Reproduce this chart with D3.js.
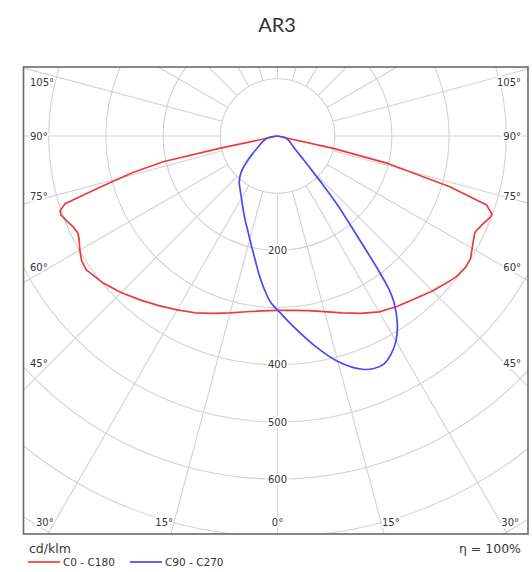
<!DOCTYPE html>
<html>
<head>
<meta charset="utf-8">
<script src="https://cdn.jsdelivr.net/npm/d3@7"></script>
<style>
  html, body { margin: 0; padding: 0; background: #fff; }
  svg { display: block; }
</style>
</head>
<body>
<svg id="chart" width="532" height="572"></svg>
<script>
// Luminous intensity distribution (cd/klm), gamma angle in degrees from nadir.
// C0 - C180 plane
const c0Angles   = [0, 5, 10, 15, 20, 25, 30, 35, 40, 45, 50, 52, 55, 57.5, 60, 62, 64, 67, 69, 70, 71.75, 73.6, 76, 77.5, 90];
const c0Values   = [305, 306, 310, 318, 329, 342, 355, 364, 372, 383, 394, 398, 401, 400, 393, 388, 384, 391, 398, 399, 385, 314, 200, 100, 0];
const c180Angles = [0, 5, 10, 15, 20, 25, 30, 35, 40, 45, 50, 55, 57.5, 60, 62.5, 64, 66, 68, 70, 71, 72.3, 74, 75.8, 77.3, 78, 90];
const c180Values = [305, 307, 312, 320, 330, 341, 351, 362, 374, 387, 399, 408, 406, 399, 391, 388, 391, 397, 403, 402, 390, 320, 262, 205, 100, 0];
// C90 - C270 plane
const c90Angles  = [0, 5, 10, 15, 20, 22.5, 25, 27.5, 30, 32.5, 35, 36, 37, 38, 39.5, 41, 43, 45, 48, 52, 60, 70, 78, 90];
const c90Values  = [304, 336, 372, 408, 434, 440, 440, 430, 414, 390, 355, 332, 290, 245, 195, 160, 115, 85, 60, 42, 28, 20, 14, 0];
const c270Angles = [0, 2.5, 5, 7.5, 10, 12.5, 15, 17.5, 20, 25, 30, 35, 40, 45, 50, 55, 60, 70, 80, 90];
const c270Values = [304, 290, 268, 245, 222, 203, 187, 173, 162, 142, 126, 114, 104, 90, 70, 52, 40, 27, 17, 0];

// Grid and labels
const ringValues   = [100, 200, 300, 400, 500, 600, 700, 800];
const ringLabels   = [200, 400, 500, 600];
const spokeAngles  = d3.range(0, 360, 15);
const sideLabels   = [105, 90, 75, 60, 45];
const bottomLabels = [30, 15, 0, 15, 30];
const bottomSides  = [-1, -1, 0, 1, 1];

const legendNames  = ["C0 - C180", "C90 - C270"];
const legendColors = ["#f03a3a", "#4a4af2"];
const title = "AR3";
const unitText = "cd/klm";
const effText = "\u03b7 = 100%";

const svg = d3.select("#chart");
const frame = { left: 23.5, top: 67, right: 528, bottom: 534 };
const cx = 277.5, cy = 136;
const r = d3.scaleLinear().domain([0, 100]).range([0, 57.2]);
const gridColor = "#d2d2d2";
const textColor = "#363636";
const labelFont = "'DejaVu Sans', Verdana, sans-serif";

// polar -> screen: gamma measured from straight down, side -1 = left, +1 = right
function pt(gamma, value, side) {
  const a = gamma * Math.PI / 180;
  const rr = r(value);
  return [cx + side * rr * Math.sin(a), cy + rr * Math.cos(a)];
}

svg.append("text")
  .attr("x", 277).attr("y", 32)
  .attr("text-anchor", "middle")
  .attr("font-family", "Lato, 'Open Sans', sans-serif")
  .attr("font-size", 20)
  .attr("fill", "#333")
  .text(title);

const defs = svg.append("defs");
defs.append("clipPath").attr("id", "frameClip")
  .append("rect")
  .attr("x", frame.left).attr("y", frame.top)
  .attr("width", frame.right - frame.left).attr("height", frame.bottom - frame.top);

const grid = svg.append("g").attr("clip-path", "url(#frameClip)");

grid.selectAll("circle.ring").data(ringValues).join("circle")
  .attr("class", "ring")
  .attr("cx", cx).attr("cy", cy)
  .attr("r", d => r(d))
  .attr("fill", "none")
  .attr("stroke", gridColor)
  .attr("stroke-width", 1.1);

// spokes every 15 degrees, starting at the innermost ring
grid.selectAll("line.spoke").data(spokeAngles).join("line")
  .attr("class", "spoke")
  .attr("x1", d => pt(d, 100, 1)[0]).attr("y1", d => pt(d, 100, 1)[1])
  .attr("x2", d => pt(d, 1200, 1)[0]).attr("y2", d => pt(d, 1200, 1)[1])
  .attr("stroke", gridColor)
  .attr("stroke-width", 1.1);

const line = d3.line();
function curvePoints(leftAngles, leftValues, rightAngles, rightValues) {
  const pts = [];
  for (let i = leftAngles.length - 1; i >= 0; i--) pts.push(pt(leftAngles[i], leftValues[i], -1));
  for (let i = 0; i < rightAngles.length; i++) pts.push(pt(rightAngles[i], rightValues[i], 1));
  return pts;
}

// labels drawn with a white halo so the grid breaks around them
function haloText(sel) {
  sel.attr("font-family", labelFont)
    .attr("font-size", 10)
    .attr("fill", textColor)
    .attr("stroke", "#fff")
    .attr("stroke-width", 4)
    .attr("stroke-linejoin", "round")
    .attr("paint-order", "stroke");
}

// side angle labels: at the height where each spoke passes x = 50 (mirrored on the right)
const sideG = svg.append("g");
sideLabels.forEach(g => {
  const a = g * Math.PI / 180;
  const ys = cy + (cx - 50) * Math.cos(a) / Math.sin(a);
  const yy = Math.max(frame.top + 15.5, ys);
  sideG.append("text").call(haloText)
    .attr("x", 30).attr("y", yy).attr("dy", "0.35em")
    .attr("text-anchor", "start").text(g + "\u00b0");
  sideG.append("text").call(haloText)
    .attr("x", 521).attr("y", yy).attr("dy", "0.35em")
    .attr("text-anchor", "end").text(g + "\u00b0");
});

// bottom angle labels, beside the point where each spoke meets the label row
bottomLabels.forEach((g, i) => {
  const side = bottomSides[i];
  const a = g * Math.PI / 180;
  const yLab = 522;
  const xs = cx + (side || 1) * (yLab - cy) * Math.tan(a);
  svg.append("text").call(haloText)
    .attr("x", side < 0 ? xs - 1 : side > 0 ? xs + 1 : xs)
    .attr("y", yLab).attr("dy", "0.35em")
    .attr("text-anchor", side < 0 ? "end" : side > 0 ? "start" : "middle")
    .text(g + "\u00b0");
});

// ring value labels along the nadir spoke
svg.selectAll("text.ringLabel").data(ringLabels).join("text")
  .attr("class", "ringLabel")
  .call(haloText)
  .attr("x", cx).attr("y", d => cy + r(d)).attr("dy", "0.35em")
  .attr("text-anchor", "middle")
  .text(d => d);

svg.append("path")
  .attr("d", line(curvePoints(c180Angles, c180Values, c0Angles, c0Values)))
  .attr("fill", "none").attr("stroke", legendColors[0])
  .attr("stroke-width", 1.7).attr("stroke-linejoin", "round");

svg.append("path")
  .attr("d", line.curve(d3.curveCatmullRom)(curvePoints(c270Angles, c270Values, c90Angles, c90Values)))
  .attr("fill", "none").attr("stroke", legendColors[1])
  .attr("stroke-width", 1.7).attr("stroke-linejoin", "round");

// frame
svg.append("rect")
  .attr("x", frame.left).attr("y", frame.top)
  .attr("width", frame.right - frame.left).attr("height", frame.bottom - frame.top)
  .attr("fill", "none").attr("stroke", "#6a6a6a").attr("stroke-width", 1.6);

// footer
svg.append("text")
  .attr("x", 29).attr("y", 553)
  .attr("font-family", labelFont).attr("font-size", 12.5)
  .attr("fill", textColor).text(unitText);

svg.append("text")
  .attr("x", 521).attr("y", 553)
  .attr("text-anchor", "end")
  .attr("font-family", labelFont).attr("font-size", 12.5)
  .attr("fill", textColor).text(effText);

const legendX = [28, 130];
legendNames.forEach((name, i) => {
  svg.append("line")
    .attr("x1", legendX[i]).attr("x2", legendX[i] + 32)
    .attr("y1", 562).attr("y2", 562)
    .attr("stroke", legendColors[i]).attr("stroke-width", 1.7);
  svg.append("text")
    .attr("x", legendX[i] + 35).attr("y", 562).attr("dy", "0.35em")
    .attr("font-family", labelFont).attr("font-size", 10.5)
    .attr("fill", textColor).text(name);
});
</script>
</body>
</html>
